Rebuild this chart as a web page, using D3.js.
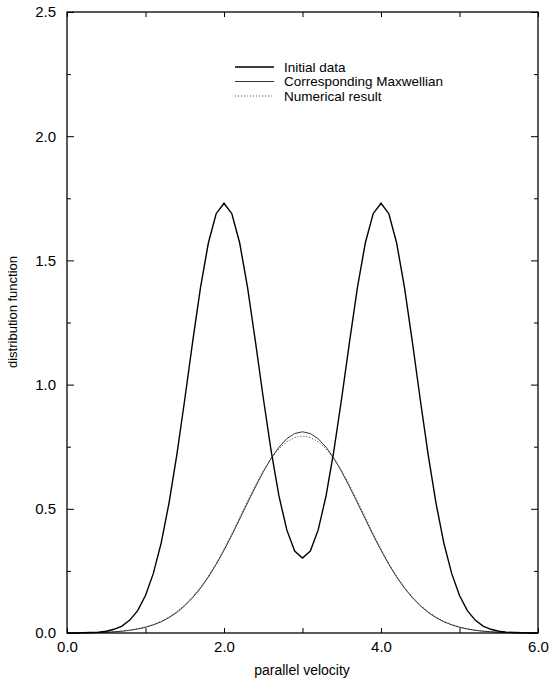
<!DOCTYPE html>
<html><head><meta charset="utf-8">
<script src="https://cdn.jsdelivr.net/npm/d3@7"></script>
<style>body{margin:0;background:#fff}svg{display:block}text{font-family:"Liberation Sans",Arial,sans-serif;fill:#000}</style>
</head><body><svg id="c" width="550" height="683"></svg>
<script>
// velocity grid (step 0.1 from 0.0 to 6.0)
const velocity = d3.range(0, 61).map(i => +(i / 10).toFixed(1));
// Initial data (two-peaked)
const initialData = [0.000,0.000,0.001,0.002,0.003,0.007,0.015,0.028,0.052,0.090,
  0.151,0.240,0.363,0.524,0.719,0.940,1.171,1.389,1.569,1.688,
  1.730,1.688,1.570,1.391,1.174,0.947,0.734,0.552,0.415,0.330,
  0.302,0.330,0.415,0.552,0.734,0.947,1.174,1.391,1.570,1.688,
  1.730,1.688,1.569,1.389,1.171,0.940,0.719,0.524,0.363,0.240,
  0.151,0.090,0.052,0.028,0.015,0.007,0.003,0.002,0.001,0.000,0.000];
// Corresponding Maxwellian
const maxwellian = [0.000,0.000,0.001,0.001,0.002,0.003,0.005,0.007,0.011,0.016,
  0.023,0.033,0.045,0.062,0.083,0.110,0.142,0.180,0.225,0.276,
  0.333,0.394,0.459,0.524,0.588,0.649,0.703,0.748,0.782,0.803,
  0.810,0.803,0.782,0.748,0.703,0.649,0.588,0.524,0.459,0.394,
  0.333,0.276,0.225,0.180,0.142,0.110,0.083,0.062,0.045,0.033,
  0.023,0.016,0.011,0.007,0.005,0.003,0.002,0.001,0.001,0.000,0.000];
// Numerical result
const numerical = [0.000,0.000,0.001,0.001,0.002,0.003,0.005,0.008,0.011,0.017,
  0.024,0.034,0.047,0.064,0.086,0.113,0.146,0.184,0.228,0.279,
  0.338,0.400,0.465,0.531,0.594,0.652,0.702,0.742,0.770,0.787,
  0.793,0.787,0.770,0.742,0.702,0.652,0.594,0.531,0.465,0.400,
  0.338,0.279,0.228,0.184,0.146,0.113,0.086,0.064,0.047,0.034,
  0.024,0.017,0.011,0.008,0.005,0.003,0.002,0.001,0.001,0.000,0.000];
const xTickLabels = [0, 2, 4, 6];
const yTickLabels = [0, 0.5, 1.0, 1.5, 2.0, 2.5];
const seriesNames = ["Initial data", "Corresponding Maxwellian", "Numerical result"];

const L = 67, R = 538, T = 12, B = 633;
const svg = d3.select("#c");
const x = d3.scaleLinear().domain([0, 6]).range([L, R]);
const y = d3.scaleLinear().domain([0, 2.5]).range([B, T]);

const series = [
  {name: seriesNames[0], vals: initialData, stroke: "#000", w: 1.4, dash: null},
  {name: seriesNames[1], vals: maxwellian, stroke: "#333", w: 1.0, dash: null},
  {name: seriesNames[2], vals: numerical, stroke: "#555", w: 1.0, dash: "1.2,1.8"}
];
const line = d3.line().x((d, i) => x(velocity[i])).y(d => y(d));
const g = svg.append("g");
series.slice().reverse().forEach(s => {
  g.append("path").datum(s.vals).attr("d", line).attr("fill", "none")
    .attr("stroke", s.stroke).attr("stroke-width", s.w)
    .attr("stroke-dasharray", s.dash);
});

// frame
svg.append("rect").attr("x", L).attr("y", T).attr("width", R - L).attr("height", B - T)
  .attr("fill", "none").attr("stroke", "#000").attr("stroke-width", 1.3);

// axes (ticks inward)
const fmt = d3.format(".1f");
const xb = d3.axisBottom(x).tickValues(d3.range(0, 7, 1)).tickSizeInner(-5).tickSizeOuter(0)
  .tickFormat(d => xTickLabels.includes(d) ? fmt(d) : "");
const gx = svg.append("g").attr("transform", `translate(0,${B})`).call(xb);
const xt = d3.axisTop(x).tickValues(d3.range(0, 7, 1)).tickSizeInner(-5).tickSizeOuter(0).tickFormat("");
const gxt = svg.append("g").attr("transform", `translate(0,${T})`).call(xt);
const yl = d3.axisLeft(y).tickValues(d3.range(0, 2.51, 0.25)).tickSizeOuter(0)
  .tickFormat(d => yTickLabels.some(v => Math.abs(v - d) < 1e-6) ? fmt(d) : "");
const gy = svg.append("g").attr("transform", `translate(${L},0)`).call(yl);
gy.selectAll(".tick line").attr("x2", d => (Math.abs(d % 0.5) < 1e-6 ? 7 : 4));
const yr = d3.axisRight(y).tickValues(d3.range(0, 2.51, 0.25)).tickSizeOuter(0).tickFormat("");
const gyr = svg.append("g").attr("transform", `translate(${R},0)`).call(yr);
gyr.selectAll(".tick line").attr("x2", d => (Math.abs(d % 0.5) < 1e-6 ? -7 : -4));
[gx, gxt, gy, gyr].forEach(a => {
  a.select(".domain").remove();
  a.selectAll(".tick line").attr("stroke", "#000").attr("stroke-width", 1);
  a.selectAll("text").style("font-size", "15px").style("font-family", '"Liberation Sans",Arial,sans-serif').attr("fill", "#000");
});
gx.selectAll("text").attr("dy", "0.71em").attr("y", 8);
gy.selectAll("text").attr("x", -11);

// axis titles
svg.append("text").attr("x", 302).attr("y", 675).attr("text-anchor", "middle")
  .style("font-size", "14px").text("parallel velocity");
svg.append("text").attr("transform", `translate(17,312) rotate(-90)`)
  .attr("text-anchor", "middle").style("font-size", "13px").text("distribution function");

// legend
const lg = svg.append("g");
series.forEach((s, i) => {
  const yy = 67 + i * 14.5;
  lg.append("line").attr("x1", 235).attr("x2", 274).attr("y1", yy).attr("y2", yy)
    .attr("stroke", s.stroke).attr("stroke-width", s.w).attr("stroke-dasharray", s.dash);
  lg.append("text").attr("x", 284).attr("y", yy).attr("dy", "0.35em")
    .style("font-size", "13.5px").text(s.name);
});
</script></body></html>
